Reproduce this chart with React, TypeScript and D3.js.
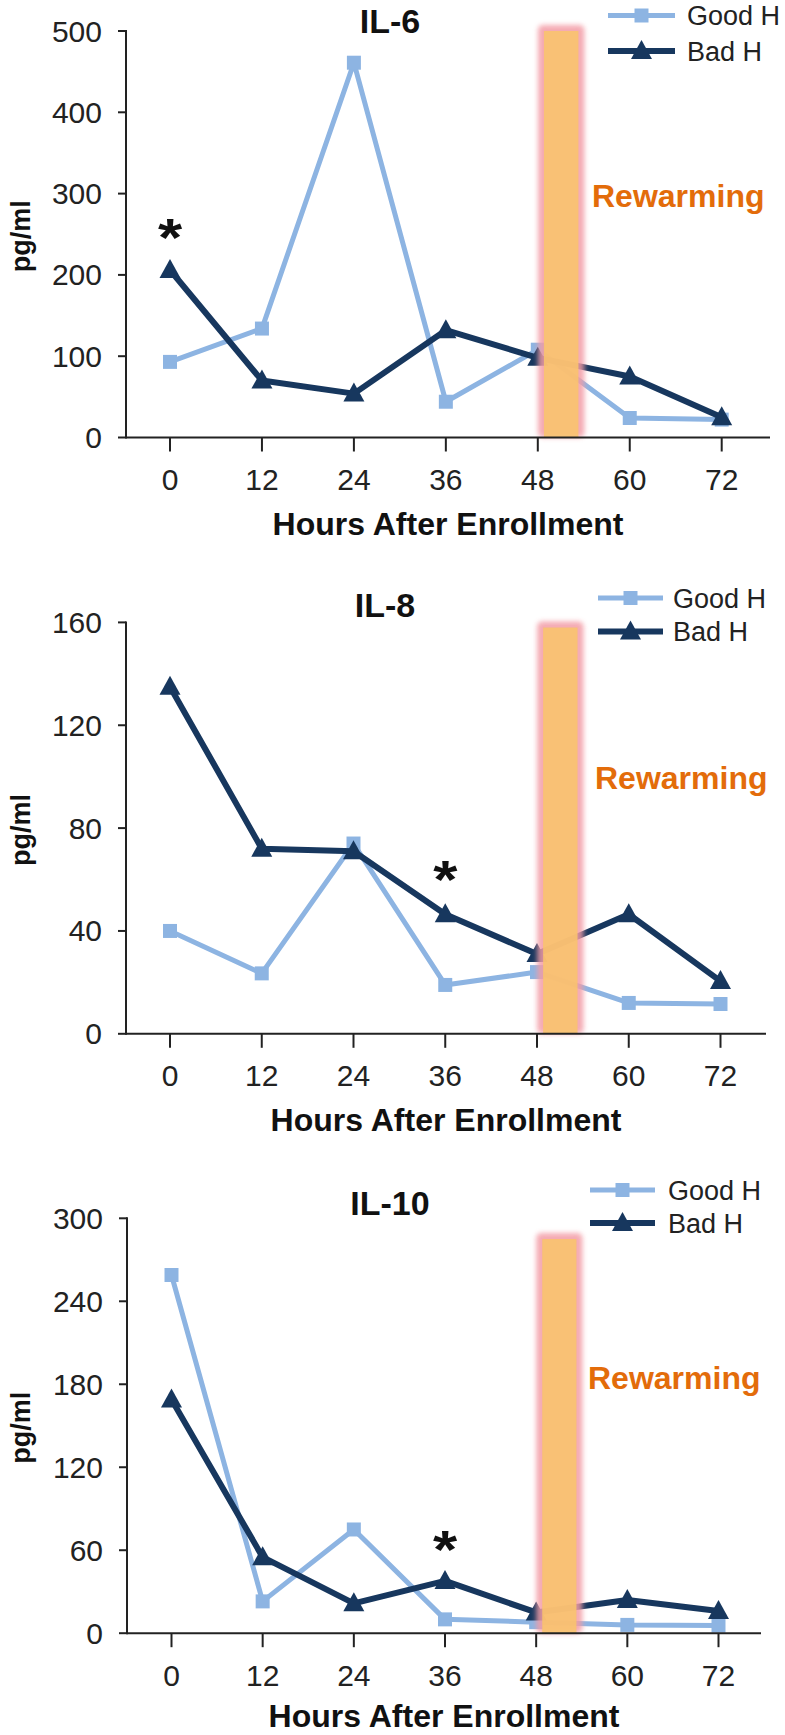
import React from "react";
import * as d3 from "d3";

const HOURS = [0, 12, 24, 36, 48, 60, 72];
const SERIES_NAMES = ["Good H", "Bad H"];
const PANEL_TITLES = ["IL-6", "IL-8", "IL-10"];

const IL6_GOOD = [93, 134, 461, 44, 108, 24, 22];
const IL6_BAD = [206, 70, 54, 132, 98, 75, 25];
const IL8_GOOD = [40, 23.5, 74, 19, 24, 12, 11.6];
const IL8_BAD = [135, 72, 71, 46.5, 31, 46.5, 20.5];
const IL10_GOOD = [259, 23, 75, 10, 8, 6, 5.5];
const IL10_BAD = [169, 55, 21.6, 37.8, 15, 24, 16];

const IL6_TICKS = [0, 100, 200, 300, 400, 500];
const IL8_TICKS = [0, 40, 80, 120, 160];
const IL10_TICKS = [0, 60, 120, 180, 240, 300];

const STAR_HOURS = [0, 36, 36];
const STAR_VALUES = [260, 64.5, 69];

const REWARM_START = 48.8;
const REWARM_END = 53.3;
const REWARM_TOPS = [500, 158, 285];
const REWARM_LABEL = "Rewarming";
const X_TITLE = "Hours After Enrollment";
const Y_TITLE = "pg/ml";

const GOOD_COLOR = "#8DB4E2";
const BAD_COLOR = "#17375E";
const BAR_COLOR = "#F9C46C";
const GLOW_COLOR = "#F39CA6";
const ORANGE_TEXT = "#E36C0A";
const FONT = "'Liberation Sans', Arial, sans-serif";

const PANELS = [
  {
    good: IL6_GOOD, bad: IL6_BAD, ticks: IL6_TICKS,
    axisX: 126, axisEnd: 770, x0: 170, x1: 721.7, yTop: 31, yBottom: 437.5,
    titleX: 390, titleY: 33, xTitleDy: 97.5,
    legX1: 608, legX2: 675, legTextX: 687, legGoodY: 15.5, legBadY: 51,
    rwX: 592, rwY: 207,
  },
  {
    good: IL8_GOOD, bad: IL8_BAD, ticks: IL8_TICKS,
    axisX: 126, axisEnd: 766, x0: 170, x1: 720.5, yTop: 622.4, yBottom: 1033.8,
    titleX: 385, titleY: 617, xTitleDy: 97.5,
    legX1: 598, legX2: 663, legTextX: 673, legGoodY: 598, legBadY: 631.5,
    rwX: 595, rwY: 789,
  },
  {
    good: IL10_GOOD, bad: IL10_BAD, ticks: IL10_TICKS,
    axisX: 127, axisEnd: 761, x0: 171.5, x1: 718.5, yTop: 1218.3, yBottom: 1633.2,
    titleX: 390, titleY: 1215, xTitleDy: 94,
    legX1: 590, legX2: 655, legTextX: 668, legGoodY: 1190, legBadY: 1223,
    rwX: 588, rwY: 1389,
  },
];

const squarePath = d3.symbol().type(d3.symbolSquare).size(196);
const triPath = (cx: number, cy: number) =>
  `M${cx},${cy - 11}L${cx + 10.5},${cy + 8}L${cx - 10.5},${cy + 8}Z`;

function Panel({ p, i }: { p: any; i: number }) {
  const x = d3.scaleLinear().domain([0, 72]).range([p.x0, p.x1]);
  const yMax = p.ticks[p.ticks.length - 1];
  const y = d3.scaleLinear().domain([0, yMax]).range([p.yBottom, p.yTop]);
  const line = d3
    .line<number>()
    .x((_, k) => x(HOURS[k]))
    .y((d) => y(d));
  const barX = x(REWARM_START);
  const barW = x(REWARM_END) - x(REWARM_START);
  const barTop = y(REWARM_TOPS[i]);
  const barH = p.yBottom - barTop;
  const starX = x(STAR_HOURS[i]);
  const starY = y(STAR_VALUES[i]);
  const legMid = (p.legX1 + p.legX2) / 2;
  const starFs = 54;
  return (
    <g fontFamily={FONT}>
      <text x={p.titleX} y={p.titleY} textAnchor="middle" fontWeight="bold" fontSize={34} fill="#111">
        {PANEL_TITLES[i]}
      </text>
      <path d={line(p.good) || ""} fill="none" stroke={GOOD_COLOR} strokeWidth={5} strokeLinejoin="round" />
      {p.good.map((v: number, k: number) => (
        <path key={"g" + k} d={squarePath() || ""} transform={`translate(${x(HOURS[k])},${y(v)})`} fill={GOOD_COLOR} />
      ))}
      <path d={line(p.bad) || ""} fill="none" stroke={BAD_COLOR} strokeWidth={6} strokeLinejoin="round" />
      {p.bad.map((v: number, k: number) => (
        <path key={"b" + k} d={triPath(x(HOURS[k]), y(v))} fill={BAD_COLOR} />
      ))}
      <rect x={barX - 6} y={barTop - 6} width={barW + 12} height={barH + 6} rx={5}
        fill={GLOW_COLOR} opacity={0.85} filter="url(#glow)" />
      <rect x={barX} y={barTop} width={barW} height={barH} fill={BAR_COLOR} opacity={0.88} />
      <text x={p.rwX} y={p.rwY} fontWeight="bold" fontSize={32} fill={ORANGE_TEXT}>
        {REWARM_LABEL}
      </text>
      <text x={starX} y={starY + 0.56 * starFs} textAnchor="middle" fontWeight="bold" fontSize={starFs} fill="#111"
        transform={`translate(${starX},0) scale(1.15,1) translate(${-starX},0)`}>
        *
      </text>
      <line x1={p.axisX} x2={p.axisX} y1={p.yTop - 1} y2={p.yBottom + 1} stroke="#222" strokeWidth={2} />
      {p.ticks.map((t: number) => (
        <g key={"yt" + t}>
          <line x1={p.axisX - 8} x2={p.axisX} y1={y(t)} y2={y(t)} stroke="#222" strokeWidth={2} />
          <text x={p.axisX - 24} y={y(t) + 10.5} textAnchor="end" fontSize={30} fill="#222">
            {t}
          </text>
        </g>
      ))}
      <line x1={p.axisX} x2={p.axisEnd} y1={p.yBottom} y2={p.yBottom} stroke="#222" strokeWidth={2} />
      {HOURS.map((h) => (
        <g key={"xt" + h}>
          <line x1={x(h)} x2={x(h)} y1={p.yBottom} y2={p.yBottom + 14} stroke="#222" strokeWidth={2} />
          <text x={x(h)} y={p.yBottom + 52.5} textAnchor="middle" fontSize={30} fill="#222">
            {h}
          </text>
        </g>
      ))}
      <text x={(p.axisX + p.axisEnd) / 2} y={p.yBottom + p.xTitleDy} textAnchor="middle" fontWeight="bold" fontSize={32} fill="#111">
        {X_TITLE}
      </text>
      <text
        transform={`translate(30,${(p.yTop + p.yBottom) / 2 + 2}) rotate(-90)`}
        textAnchor="middle" fontWeight="bold" fontSize={27} fill="#111"
      >
        {Y_TITLE}
      </text>
      <line x1={p.legX1} x2={p.legX2} y1={p.legGoodY} y2={p.legGoodY} stroke={GOOD_COLOR} strokeWidth={5} />
      <path d={squarePath() || ""} transform={`translate(${legMid},${p.legGoodY})`} fill={GOOD_COLOR} />
      <text x={p.legTextX} y={p.legGoodY + 9.5} fontSize={27} fill="#222">{SERIES_NAMES[0]}</text>
      <line x1={p.legX1} x2={p.legX2} y1={p.legBadY} y2={p.legBadY} stroke={BAD_COLOR} strokeWidth={6} />
      <path d={triPath(legMid, p.legBadY)} fill={BAD_COLOR} />
      <text x={p.legTextX} y={p.legBadY + 9.5} fontSize={27} fill="#222">{SERIES_NAMES[1]}</text>
    </g>
  );
}

export default function App() {
  return (
    <svg width={785} height={1735} style={{ position: "absolute", left: 0, top: 0, background: "#fff" }}>
      <defs>
        <filter id="glow" x="-50%" y="-10%" width="200%" height="120%">
          <feGaussianBlur stdDeviation="2.5" />
        </filter>
      </defs>
      <rect width={785} height={1735} fill="#fff" />
      {PANELS.map((p, i) => (
        <Panel key={i} p={p} i={i} />
      ))}
    </svg>
  );
}
